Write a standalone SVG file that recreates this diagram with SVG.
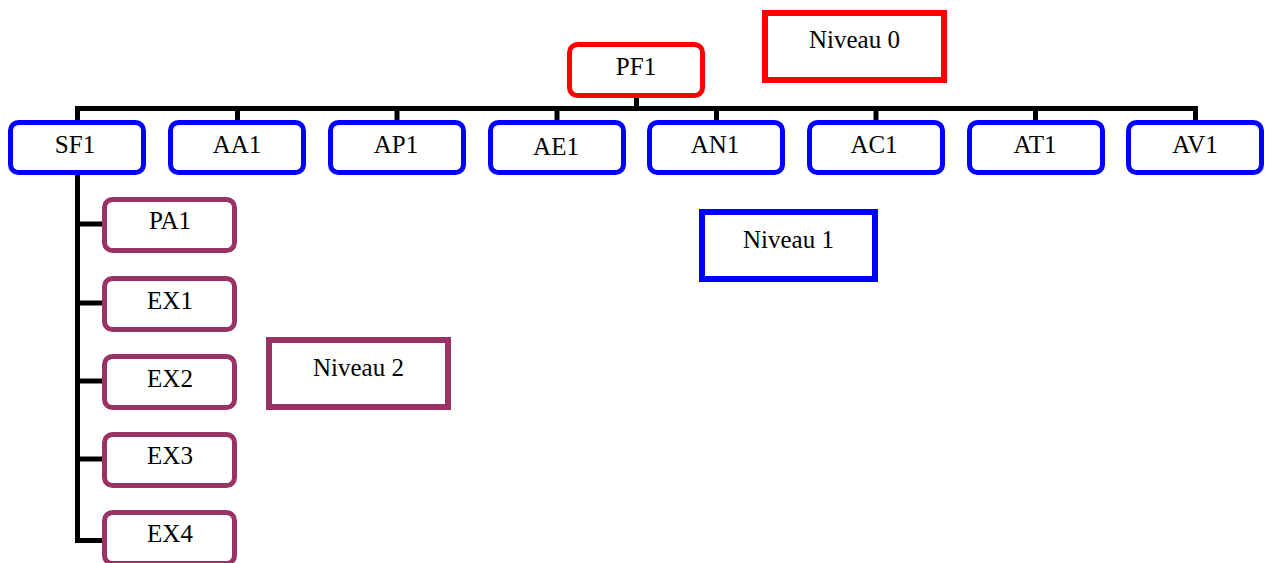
<svg xmlns="http://www.w3.org/2000/svg" width="1271" height="563" viewBox="0 0 1271 563">
  <style>
    text { font-family: "Liberation Serif", "Times New Roman", serif; font-size: 25px; fill: #000; text-anchor: middle; }
    .lvl0 { fill: #fff; stroke: #ff0000; stroke-width: 5; }
    .lvl1 { fill: #fff; stroke: #0000ff; stroke-width: 5; }
    .lvl2 { fill: #fff; stroke: #993366; stroke-width: 5; }
    .tag { stroke-width: 6; }
    .link { fill: none; stroke: #000; stroke-width: 5; }
  </style>

  <!-- tree connectors -->
  <g id="connectors">
    <path class="link" d="M636.5 98 V108.5 M75 108.5 H1198 M77.5 106 V120 M237.5 108.5 V120 M397 108.5 V120 M557 108.5 V120 M716.5 108.5 V120 M876 108.5 V120 M1035.5 108.5 V120 M1195.5 106 V120"/>
    <path class="link" d="M77.5 175 V540.5 H104 M77.5 224 H104 M77.5 303 H104 M77.5 381 H104 M77.5 459 H104"/>
  </g>

  <!-- level 0 -->
  <g id="PF1"><rect class="lvl0" x="569.5" y="44.5" width="133" height="51" rx="8"/><text x="636" y="75">PF1</text></g>

  <!-- level 1 -->
  <g id="SF1"><rect class="lvl1" x="10.5" y="122.5" width="133" height="50" rx="8"/><text x="75" y="153">SF1</text></g>
  <g id="AA1"><rect class="lvl1" x="170.5" y="122.5" width="133" height="50" rx="8"/><text x="237" y="153">AA1</text></g>
  <g id="AP1"><rect class="lvl1" x="330.5" y="122.5" width="133" height="50" rx="8"/><text x="396" y="153">AP1</text></g>
  <g id="AE1"><rect class="lvl1" x="490.5" y="122.5" width="133" height="50" rx="8"/><text x="556" y="155">AE1</text></g>
  <g id="AN1"><rect class="lvl1" x="649.5" y="122.5" width="133" height="50" rx="8"/><text x="715" y="153">AN1</text></g>
  <g id="AC1"><rect class="lvl1" x="809.5" y="122.5" width="133" height="50" rx="8"/><text x="874" y="153">AC1</text></g>
  <g id="AT1"><rect class="lvl1" x="969.5" y="122.5" width="133" height="50" rx="8"/><text x="1035" y="153">AT1</text></g>
  <g id="AV1"><rect class="lvl1" x="1128.5" y="122.5" width="133" height="50" rx="8"/><text x="1195" y="153">AV1</text></g>

  <!-- level 2 -->
  <g id="PA1"><rect class="lvl2" x="104.5" y="199.5" width="130" height="51" rx="8"/><text x="170" y="229">PA1</text></g>
  <g id="EX1"><rect class="lvl2" x="104.5" y="278.5" width="130" height="51" rx="8"/><text x="170" y="309">EX1</text></g>
  <g id="EX2"><rect class="lvl2" x="104.5" y="356.5" width="130" height="51" rx="8"/><text x="170" y="387">EX2</text></g>
  <g id="EX3"><rect class="lvl2" x="104.5" y="434.5" width="130" height="51" rx="8"/><text x="170" y="464">EX3</text></g>
  <g id="EX4"><rect class="lvl2" x="104.5" y="512.5" width="130" height="51" rx="8"/><text x="170" y="542">EX4</text></g>

  <!-- level legends -->
  <g id="niveau0"><rect class="lvl0 tag" x="765" y="13" width="179" height="67"/><text x="854.5" y="48">Niveau 0</text></g>
  <g id="niveau1"><rect class="lvl1 tag" x="702" y="212" width="173" height="67"/><text x="788.5" y="248">Niveau 1</text></g>
  <g id="niveau2"><rect class="lvl2 tag" x="269" y="340" width="179" height="67"/><text x="358.5" y="376">Niveau 2</text></g>
</svg>
